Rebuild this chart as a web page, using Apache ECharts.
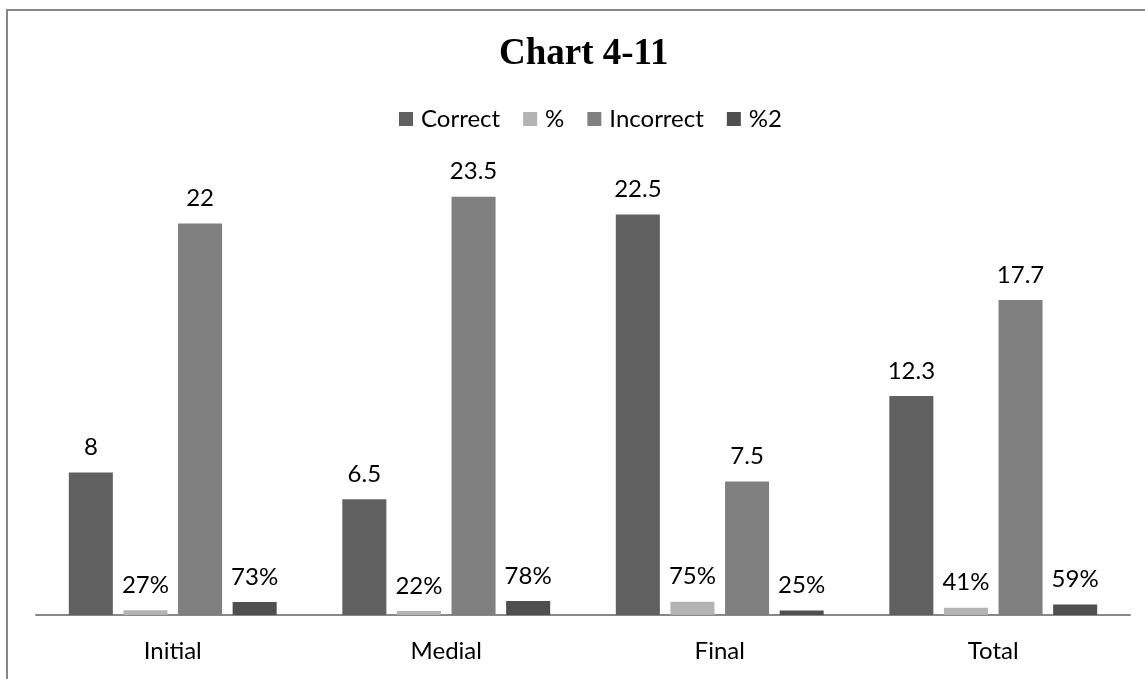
<!DOCTYPE html>
<html>
<head>
<meta charset="utf-8">
<script src="https://cdn.jsdelivr.net/npm/echarts@6/dist/echarts.min.js"></script>
<style>
html,body{margin:0;padding:0;background:#fff;}
#main{width:1145px;height:679px;}
</style>
</head>
<body>
<div id="main"></div>
<script>
var categories = ['Initial', 'Medial', 'Final', 'Total'];
var correct = [8, 6.5, 22.5, 12.3];
var pct = [0.27, 0.22, 0.75, 0.41];
var incorrect = [22, 23.5, 7.5, 17.7];
var pct2 = [0.73, 0.78, 0.25, 0.59];
var seriesNames = ['Correct', '%', 'Incorrect', '%2'];

var FONT = 'Lato, "Open Sans", sans-serif';
var chart = echarts.init(document.getElementById('main'));

function numLabel(p) { return String(p.value); }
function pctLabel(p) { return Math.round(p.value * 100) + '%'; }

function mk(name, data, color, fmt) {
  return {
    name: name, type: 'bar', data: data,
    barGap: '24%', barCategoryGap: '24%',
    itemStyle: { color: color },
    label: { show: true, position: 'top', distance: 13, color: '#000', fontFamily: FONT, fontSize: 24, formatter: fmt }
  };
}

chart.setOption({
  animation: false,
  title: {
    text: 'Chart 4-11', left: 494, top: 31,
    textStyle: { fontFamily: '"Liberation Serif", serif', fontWeight: 'bold', fontSize: 37, color: '#000' }
  },
  legend: {
    data: seriesNames, top: 102, left: 394,
    itemWidth: 14, itemHeight: 14, itemGap: 23, icon: 'rect',
    textStyle: { fontFamily: FONT, fontSize: 24, color: '#000', padding: [0, 0, 0, 3] }
  },
  grid: { left: 36, right: 15, top: 170, bottom: 64 },
  xAxis: {
    type: 'category', data: categories,
    axisLine: { lineStyle: { color: '#888', width: 2 } },
    axisTick: { show: false },
    axisLabel: { fontFamily: FONT, fontSize: 24, color: '#000', margin: 24 }
  },
  yAxis: {
    type: 'value', min: 0, max: 25, interval: 5,
    show: false, splitLine: { show: false }
  },
  graphic: [{
    type: 'rect', shape: { x: 7, y: 10, width: 1300, height: 900 },
    style: { fill: 'none', stroke: '#878787', lineWidth: 2 }, silent: true
  }],
  series: [
    mk('Correct', correct, '#606060', numLabel),
    mk('%', pct, '#b3b3b3', pctLabel),
    mk('Incorrect', incorrect, '#808080', numLabel),
    mk('%2', pct2, '#4f4f4f', pctLabel)
  ]
});
</script>
</body>
</html>
